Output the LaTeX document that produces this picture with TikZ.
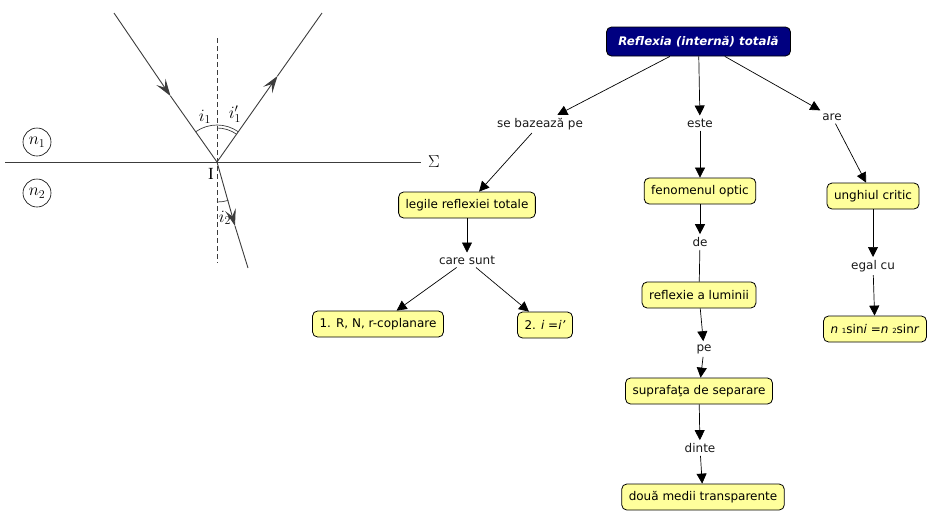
\documentclass[tikz,border=0pt]{standalone}
\usepackage{fontspec}
\setmainfont{DejaVu Sans}
\newfontfamily\serifl{Liberation Serif}
\usetikzlibrary{arrows.meta}
\definecolor{cfill}{RGB}{255,255,156}
\definecolor{navyc}{RGB}{0,0,128}
\definecolor{raygray}{RGB}{60,60,60}
\begin{document}
\begin{tikzpicture}[x=1pt,y=-1pt,
  concept/.style={draw=black, fill=cfill, rounded corners=5pt, minimum height=26pt,
    inner xsep=7pt, font=\fontsize{12}{14}\selectfont, line width=0.8pt},
  topc/.style={draw=black, fill=navyc, text=white, rounded corners=5pt, minimum height=29pt,
    minimum width=184pt, font=\fontsize{11.8}{14}\selectfont\bfseries\itshape, line width=0.8pt},
  linkph/.style={font=\fontsize{12}{14}\selectfont, inner sep=3pt, text=black!90},
  arr/.style={-{Triangle[length=10pt,width=10pt]}, line width=0.7pt},
  plainc/.style={line width=0.7pt},
  ray/.style={draw=raygray, line width=0.9pt},
  rayarr/.style={draw=raygray, line width=0.9pt, -{Stealth[length=17pt,width=11pt,inset=7pt]}},
  lab/.style={font=\fontsize{17}{20}\selectfont, inner sep=0pt}]
\useasboundingbox (0,0) rectangle (931,515);

% ---------- optics sketch ----------
\coordinate (I) at (217,162);
\coordinate (inc) at (114,13);
\coordinate (incm) at (170.5,96);
\coordinate (refl) at (322,13);
\coordinate (reflm) at (277.5,76);
\coordinate (refr) at (248,268);
\coordinate (refrm) at (235,226);
\draw[raygray, line width=0.8pt] (5,162) -- (421,162);
\draw[raygray, line width=0.8pt, dash pattern=on 5pt off 3pt] (217,38) -- (217,263);
\draw[rayarr] (inc) -- (incm);
\draw[ray] (incm) -- (I);
\draw[rayarr] (I) -- (reflm);
\draw[ray] (reflm) -- (refl);
\draw[rayarr] (I) -- (refrm);
\draw[ray] (refrm) -- (refr);
% angle arcs
\draw[raygray, line width=0.7pt] (I) ++(-124.7:37) arc[start angle=-124.7, end angle=-90, radius=37];
\draw[raygray, line width=0.7pt] (I) ++(-90:37) arc[start angle=-90, end angle=-54.8, radius=37];
\draw[raygray, line width=0.7pt] (I) ++(-90:34) arc[start angle=-90, end angle=-54.8, radius=34];
\draw[raygray, line width=0.7pt] (I) ++(90:40) arc[start angle=90, end angle=73.7, radius=40];
\node[lab] (li1) at (205,117) {$i_1$};
\node[lab] (li1p) at (235,114) {$i_1'$};
\node[lab] (li2) at (225,218) {$i_2$};
\node[lab] (lI) at (211,174) {\serifl I};
\node[lab] (lS) at (434,162) {$\Sigma$};
\node[lab, draw=black, line width=0.6pt, circle, minimum size=28pt] (n1) at (37,142) {$n_1$};
\node[lab, draw=black, line width=0.6pt, circle, minimum size=28pt] (n2) at (37,193) {$n_2$};

% ---------- concept map ----------
\node[topc] (top) at (698.5,41.5) {Reflexia (internă) totală};
\node[linkph] (sb) at (540,124) {se bazează pe};
\node[linkph] (este) at (700,123) {este};
\node[linkph] (are) at (832,117) {are};
\node[concept] (leg) at (467,205) {legile reflexiei totale};
\node[linkph] (cs) at (467,260) {care sunt};
\node[concept] (r1) at (378,324) {1. R, N, r-coplanare};
\node[concept] (r2) at (545,325) {2. \textit{i} =\textit{i’}};
\node[concept] (fen) at (700,191) {fenomenul optic};
\node[linkph] (de) at (700,242) {de};
\node[concept] (rl) at (699,295) {reflexie a luminii};
\node[linkph] (pe) at (704,349) {pe};
\node[concept] (sup) at (699,391) {suprafaţa de separare};
\node[linkph] (din) at (700,448) {dinte};
\node[concept] (doua) at (703,497) {două medii transparente};
\node[concept] (ung) at (873,196) {unghiul critic};
\node[linkph] (eg) at (873,266) {egal cu};
\node[concept] (nn) at (875,329) {\textit{n} {\scriptsize 1}sin\textit{i} =\textit{n} {\scriptsize 2}sin\textit{r}};

\draw[arr] (top) -- (sb);
\draw[arr] (sb) -- (leg);
\draw[arr] (top) -- (este);
\draw[arr] (este) -- (fen);
\draw[arr] (top) -- (are);
\draw[arr] (are) -- (ung);
\draw[arr] (leg) -- (cs);
\draw[arr] (cs) -- (r1);
\draw[arr] (cs) -- (r2);
\draw[arr] (fen) -- (de);
\draw[plainc] (de) -- (rl);
\draw[arr] (rl) -- (pe);
\draw[arr] (pe) -- (sup);
\draw[arr] (sup) -- (din);
\draw[arr] (din) -- (doua);
\draw[arr] (ung) -- (eg);
\draw[arr] (eg) -- (nn);
\end{tikzpicture}
\end{document}
